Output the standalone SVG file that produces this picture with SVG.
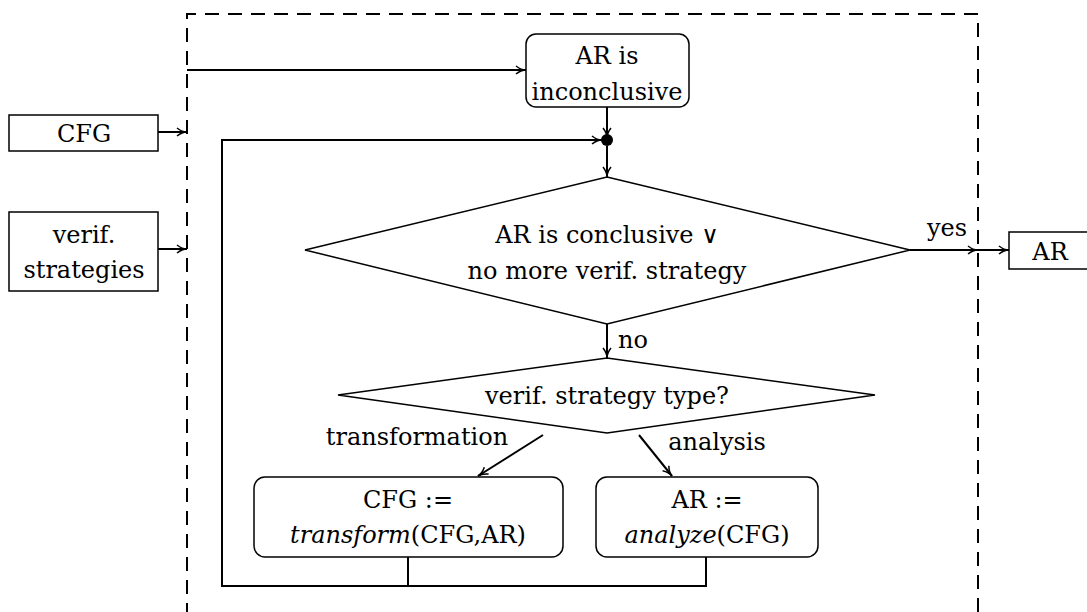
<svg xmlns="http://www.w3.org/2000/svg" width="1087" height="612" viewBox="0 0 1087 612">
<style>
text{font-family:'DejaVu Serif',serif;font-size:24px;fill:#000;text-anchor:middle}
.i{font-style:italic}
.n{fill:#fff;stroke:#000;stroke-width:1.5}
.c{fill:none;stroke:#000;stroke-width:2}
</style>
<defs>
<marker id="a" viewBox="0 0 12 10" refX="11" refY="5" markerWidth="12" markerHeight="10" markerUnits="userSpaceOnUse" orient="auto">
<path d="M1,1 Q6,5 11,5 Q6,5 1,9" fill="none" stroke="#000" stroke-width="1.5"/>
</marker>
</defs>
<rect x="0" y="0" width="1087" height="612" fill="#fff"/>
<path d="M187,640 V14 H978 V640" fill="none" stroke="#000" stroke-width="2" stroke-dasharray="14,9"/>
<g id="cfg"><rect class="n" x="9" y="115" width="149" height="36"/><text x="84" y="142">CFG</text></g>
<g id="strat"><rect class="n" x="9" y="212" width="149" height="79"/><text x="84" y="243">verif.</text><text x="84" y="278">strategies</text></g>
<g id="arout"><rect class="n" x="1009" y="232" width="90" height="37"/><text x="1050" y="260">AR</text></g>
<g id="inconcl"><rect class="n" x="526" y="34" width="163" height="73" rx="10"/><text x="607" y="64">AR is</text><text x="607" y="100">inconclusive</text></g>
<g id="cond"><polygon class="n" points="607,177 910,250 607,324 305,250"/><text x="607" y="243">AR is conclusive  ∨</text><text x="607" y="279">no more verif. strategy</text></g>
<g id="type"><polygon class="n" points="607,358 875,395 607,433 338,395"/><text x="607" y="404">verif. strategy type?</text></g>
<g id="transform"><rect class="n" x="254" y="477" width="309" height="80" rx="11"/><text x="408" y="508">CFG :=</text><text x="408" y="543"><tspan class="i">transform</tspan>(CFG,AR)</text></g>
<g id="analyze"><rect class="n" x="596" y="477" width="222" height="80" rx="11"/><text x="707" y="508">AR :=</text><text x="707" y="543"><tspan class="i">analyze</tspan>(CFG)</text></g>
<g id="connectors">
<path class="c" d="M158,132 H187" marker-end="url(#a)"/>
<path class="c" d="M158,249 H187" marker-end="url(#a)"/>
<path class="c" d="M187,70 H526" marker-end="url(#a)"/>
<path class="c" d="M607,107 V138" marker-end="url(#a)"/>
<circle cx="607" cy="140" r="6" fill="#000"/>
<path class="c" d="M408,557 V586 M706,557 V586 H222 V140 H602" marker-end="url(#a)"/>
<path class="c" d="M607,146 V177" marker-end="url(#a)"/>
<path class="c" d="M910,250 H978" marker-end="url(#a)"/>
<path class="c" d="M978,250 H1009" marker-end="url(#a)"/>
<path class="c" d="M607,324 V358" marker-end="url(#a)"/>
<path class="c" d="M543,435 L478,476" marker-end="url(#a)"/>
<path class="c" d="M639,435 L672,476" marker-end="url(#a)"/>
<text x="947" y="236">yes</text>
<text x="633" y="348">no</text>
<text x="417" y="445">transformation</text>
<text x="717" y="450">analysis</text>
</g>
</svg>
